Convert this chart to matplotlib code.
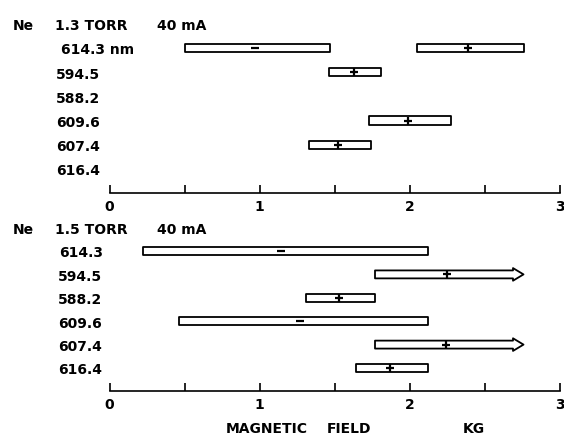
"""
Ne line intensity ranges vs magnetic field, two pressures
"""
import matplotlib
matplotlib.use('Agg')
import matplotlib.pyplot as plt
from matplotlib.patches import Polygon

# ---- data (kG) ----
top_labels = ['614.3 nm', '594.5', '588.2', '609.6', '607.4', '616.4']
top_row = [0, 0, 1, 3, 4]
top_lo = [0.50, 2.05, 1.46, 1.73, 1.33]
top_hi = [1.47, 2.76, 1.81, 2.28, 1.74]
top_mid = [0.97, 2.39, 1.63, 1.99, 1.52]
top_sign = ['-', '+', '+', '+', '+']
top_open = [False, False, False, False, False]

bot_labels = ['614.3', '594.5', '588.2', '609.6', '607.4', '616.4']
bot_row = [0, 1, 2, 3, 4, 5]
bot_lo = [0.22, 1.77, 1.31, 0.46, 1.77, 1.64]
bot_hi = [2.12, 2.76, 1.77, 2.12, 2.76, 2.12]
bot_mid = [1.14, 2.25, 1.53, 1.27, 2.24, 1.87]
bot_sign = ['-', '+', '+', '-', '+', '+']
bot_open = [False, True, False, False, True, False]

x_ticks = [0, 1, 2, 3]

W, H = 564, 435
X0, SX = 109.5, 150.0   # pixel of x=0, pixels per kG

plt.rcParams['font.family'] = 'DejaVu Sans'
plt.rcParams['font.weight'] = 'bold'
plt.rcParams['font.size'] = 10

fig = plt.figure(figsize=(W / 100, H / 100), dpi=100)


def px_x(px):
    return (px - X0) / SX


def draw_panel(ax, pressure, labels, rows, lo, hi, mid, sign, opened,
               px_top, px_bot, px_row0, px_step, label_px):
    ax.set_position([0, 1 - px_bot / H, 1, (px_bot - px_top) / H])
    ax.set_xlim(px_x(0), px_x(W))
    ax.set_ylim(-(px_bot - px_row0) / px_step, (px_row0 - px_top) / px_step)
    n = len(labels)

    for s in ['top', 'left', 'right']:
        ax.spines[s].set_visible(False)
    ax.spines['bottom'].set_position(('data', -n))
    ax.spines['bottom'].set_bounds(0, 3)
    ax.spines['bottom'].set_linewidth(1.2)
    ax.set_yticks([])
    ax.set_xticks(x_ticks)
    ax.set_xticklabels([str(t) for t in x_ticks], fontweight='bold')
    ax.set_xticks([0.5, 1.5, 2.5], minor=True)
    ax.tick_params(axis='x', which='both', direction='in', length=6,
                   width=1.2, pad=4)
    ax.patch.set_visible(False)

    # header
    ax.text(px_x(13), 1, 'Ne', va='center_baseline', ha='left', fontweight='heavy')
    ax.text(px_x(55), 1, pressure, va='center_baseline', ha='left')
    ax.text(px_x(157), 1, '40 mA', va='center_baseline', ha='left')

    for i, lab in enumerate(labels):
        ax.text(px_x(label_px[i]), -i, lab, va='center_baseline', ha='left')

    hb = 0.17   # half bar height
    hh = 0.27   # half arrow head height
    head = 0.07
    for r, a, b, m, sg, op in zip(rows, lo, hi, mid, sign, opened):
        y = -r
        if op:
            e = b - head
            pts = [(a, y - hb), (e, y - hb), (e, y - hh), (b, y),
                   (e, y + hh), (e, y + hb), (a, y + hb)]
        else:
            pts = [(a, y - hb), (b, y - hb), (b, y + hb), (a, y + hb)]
        ax.add_patch(Polygon(pts, closed=True, facecolor='white',
                             edgecolor='black', linewidth=1.3, joinstyle='round'))
        if sg == '+':
            ax.plot(m, y, marker='+', ms=6, mew=1.6, color='black')
        else:
            ax.plot(m, y, marker='_', ms=6, mew=1.6, color='black')


ax1 = fig.add_axes([0, 0.5, 1, 0.5])
draw_panel(ax1, '1.3 TORR', top_labels, top_row, top_lo, top_hi, top_mid,
           top_sign, top_open, 8, 215, 49, 24.2, [61, 56, 56, 56, 56, 56])

ax2 = fig.add_axes([0, 0, 1, 0.5])
draw_panel(ax2, '1.5 TORR', bot_labels, bot_row, bot_lo, bot_hi, bot_mid,
           bot_sign, bot_open, 215, 435, 252, 23.4, [59, 58, 58, 58, 58, 58])

for txt, px in [('MAGNETIC', 226), ('FIELD', 327), ('KG', 463)]:
    fig.text(px / W, 1 - 428 / H, txt, ha='left', va='center_baseline')

fig.savefig('out.png', dpi=100)
